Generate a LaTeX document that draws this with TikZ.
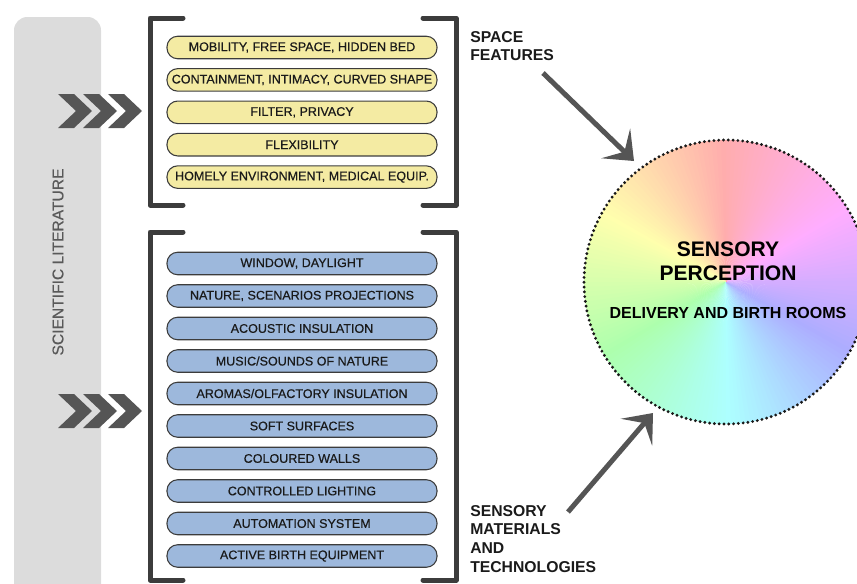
\documentclass[tikz,border=0pt]{standalone}
\usepackage{fontspec}
\setmainfont{Liberation Sans}
\newfontfamily\medfont{Liberation Sans}[FakeBold=0.5]
\usetikzlibrary{arrows.meta}
\definecolor{pillY}{HTML}{F4EBA3}
\definecolor{pillB}{HTML}{9DB8DC}
\definecolor{barG}{HTML}{DCDCDC}
\definecolor{dk}{HTML}{3C3C3C}
\definecolor{arr}{HTML}{555555}
\definecolor{txt}{HTML}{1A1A1A}
\begin{document}
\begin{tikzpicture}[x=0.75pt,y=-0.75pt,
  pill/.style={draw=dk, line width=0.8pt, rounded corners=8pt, minimum width=202.5pt,
    minimum height=16.9pt, inner sep=0pt, font=\medfont\fontsize{9.4}{11}\selectfont, text=txt},
  ypill/.style={pill, fill=pillY},
  bpill/.style={pill, fill=pillB},
  brk/.style={draw=dk, line width=3.75pt, line cap=round, line join=round},
  chev/.style={fill=arr},
  lab/.style={font=\bfseries\fontsize{11.8}{14}\selectfont, text=txt, align=left, inner sep=0pt},
  bigarrow/.style={draw=arr, line width=3.75pt, -{Stealth[length=19pt, width=31pt, inset=9pt]}},
  wheeltxt/.style={font=\bfseries\fontsize{15.8}{18}\selectfont, align=center, inner sep=0pt}
]
\useasboundingbox (0,0) rectangle (857,583);
\clip (0,0) rectangle (857,583);

% grey bar
\fill[barG, rounded corners=10pt] (14,17) rectangle (101,600);
\node[rotate=90, font=\medfont\fontsize{11.7}{14}\selectfont, text=black!65, inner sep=0pt] (lit) at (58,262) {SCIENTIFIC LITERATURE};

% chevrons
\foreach \ym in {111,411}{
  \foreach \x in {58,83,108}{
    \fill[chev] (\x,\ym-17) -- (\x+16,\ym-17) -- (\x+34,\ym) -- (\x+16,\ym+17) -- (\x,\ym+17) -- (\x+18,\ym) -- cycle;
  }
}

% brackets
\draw[brk] (183,18) -- (150,18) -- (150,205) -- (183,205);
\draw[brk] (423,18) -- (456,18) -- (456,205) -- (423,205);
\draw[brk] (183,232) -- (150,232) -- (150,580) -- (183,580);
\draw[brk] (423,232) -- (456,232) -- (456,580) -- (423,580);

% yellow pills
\node[ypill] (y1) at (302,47.5) {MOBILITY, FREE SPACE, HIDDEN BED};
\node[ypill] (y2) at (302,79.9) {CONTAINMENT, INTIMACY, CURVED SHAPE};
\node[ypill] (y3) at (302,112.3) {FILTER, PRIVACY};
\node[ypill] (y4) at (302,144.7) {FLEXIBILITY};
\node[ypill] (y5) at (302,177.1) {HOMELY ENVIRONMENT, MEDICAL EQUIP.};

% blue pills
\node[bpill] (b1) at (302,263.5) {WINDOW, DAYLIGHT};
\node[bpill] (b2) at (302,296) {NATURE, SCENARIOS PROJECTIONS};
\node[bpill] (b3) at (302,328.5) {ACOUSTIC INSULATION};
\node[bpill] (b4) at (302,361) {MUSIC/SOUNDS OF NATURE};
\node[bpill] (b5) at (302,393.5) {AROMAS/OLFACTORY INSULATION};
\node[bpill] (b6) at (302,426) {SOFT SURFACES};
\node[bpill] (b7) at (302,458.5) {COLOURED WALLS};
\node[bpill] (b8) at (302,491) {CONTROLLED LIGHTING};
\node[bpill] (b9) at (302,523.5) {AUTOMATION SYSTEM};
\node[bpill] (b10) at (302,556) {ACTIVE BIRTH EQUIPMENT};

% labels
\node[lab, anchor=north west] (sf) at (470,31) {SPACE\\FEATURES};
\node[lab, anchor=north west] (smt) at (470,505) {SENSORY\\MATERIALS\\AND\\TECHNOLOGIES};

% colour wheel
\begin{scope}[shift={(726,282)}, x=0.75pt, y=0.75pt]
  \foreach \a in {0,2,...,358}{
    \pgfmathsetmacro\hh{mod(\a+270,360)}
    \definecolor{wc}{Hsb}{\hh,0.32,1}
    \fill[wc] (0,0) -- (\a:142) arc[start angle=\a, end angle=\a+2.6, radius=142] -- cycle;
  }
\end{scope}
\node[circle, draw=black!90, line width=2.4pt, dash pattern=on 0pt off 3.6pt, line cap=round,
  minimum size=213pt, inner sep=0pt] (wheel) at (726,282) {};
\node[wheeltxt] (sp) at (728,261) {SENSORY\\PERCEPTION};
\node[font=\bfseries\fontsize{12}{14}\selectfont, inner sep=0pt] (dr) at (728,313) {DELIVERY AND BIRTH ROOMS};

% arrows
\coordinate (a1s) at (543,73);
\coordinate (a1e) at (634,161);
\coordinate (a2s) at (568,512);
\coordinate (a2e) at (653,413);
\draw[bigarrow] (a1s) -- (a1e);
\draw[bigarrow] (a2s) -- (a2e);
\end{tikzpicture}
\end{document}
